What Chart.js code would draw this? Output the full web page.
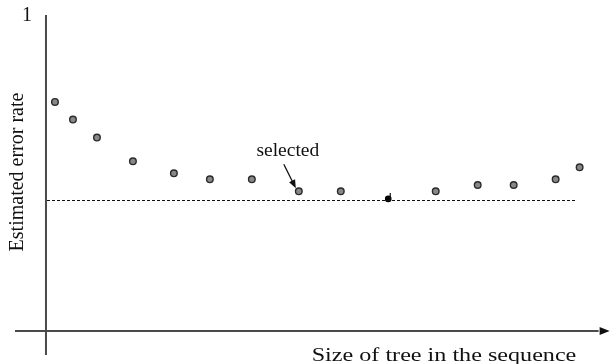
<!DOCTYPE html>
<html>
<head>
<meta charset="utf-8">
<script src="https://cdn.jsdelivr.net/npm/chart.js@4/dist/chart.umd.min.js"></script>
<style>
    html, body { margin: 0; padding: 0; background: #fff; }
    #wrap { width: 612px; height: 364px; position: relative; }
</style>
</head>
<body>
<div id="wrap"><canvas id="errorChart"></canvas></div>
<script>
// tree sizes along the pruning sequence (arbitrary units) and estimated error
const treeSizes = [9, 27, 51, 87, 128, 164, 206, 253, 295, 342.5, 390, 432, 468, 510, 534];
const errorRates = [0.725, 0.669, 0.612, 0.537, 0.499, 0.480, 0.480, 0.442, 0.442, 0.418, 0.442, 0.462, 0.462, 0.480, 0.518];
const minIndex = 9;        // black point: minimum estimated error
const selectedIndex = 7;   // tree picked by the rule
const thresholdX = [1, 531];
const thresholdY = [0.413, 0.413];
const yTickLabels = ['1'];

const serif = '"Liberation Serif", "Times New Roman", serif';
const axisColor = '#4a4a4a';

const points = treeSizes.map((x, i) => ({ x, y: errorRates[i] }));
const thresholdLine = thresholdX.map((x, i) => ({ x, y: thresholdY[i] }));

const drawingPlugin = {
    id: 'treeDrawing',
    beforeDatasetsDraw(chart) {
        const { ctx, scales: { x, y } } = chart;
        const x0 = x.getPixelForValue(0);
        const y0 = y.getPixelForValue(0);
        ctx.save();
        ctx.strokeStyle = axisColor;
        ctx.lineWidth = 2;
        // vertical axis
        ctx.beginPath();
        ctx.moveTo(x0, y.getPixelForValue(1));
        ctx.lineTo(x0, y.getPixelForValue(y.min));
        ctx.stroke();
        // horizontal axis with arrow head
        const xEnd = x.getPixelForValue(x.max);
        ctx.beginPath();
        ctx.moveTo(x.getPixelForValue(x.min), y0);
        ctx.lineTo(xEnd - 8, y0);
        ctx.stroke();
        ctx.fillStyle = '#111';
        ctx.beginPath();
        ctx.moveTo(xEnd + 3, y0);
        ctx.lineTo(xEnd - 7, y0 - 4);
        ctx.lineTo(xEnd - 7, y0 + 4);
        ctx.closePath();
        ctx.fill();
        ctx.restore();
    },
    afterDatasetsDraw(chart) {
        const { ctx, scales: { x, y } } = chart;
        ctx.save();
        ctx.fillStyle = '#111';
        ctx.strokeStyle = '#111';

        // small tick on the minimum point
        const mx = x.getPixelForValue(treeSizes[minIndex]);
        const my = y.getPixelForValue(errorRates[minIndex]);
        ctx.lineWidth = 1.2;
        ctx.beginPath();
        ctx.moveTo(mx + 2, my + 2);
        ctx.lineTo(mx + 2, my - 6);
        ctx.stroke();

        // tick label "1"
        ctx.font = '20px ' + serif;
        ctx.textAlign = 'center';
        ctx.textBaseline = 'alphabetic';
        ctx.fillText(yTickLabels[0], 27, y.getPixelForValue(1) + 6);

        // axis titles (x title is set wide in the original figure)
        ctx.save();
        ctx.translate(444, 361);
        ctx.scale(1.27, 1);
        ctx.font = '19px ' + serif;
        ctx.fillText('Size of tree in the sequence', 0, 0);
        ctx.restore();

        ctx.save();
        ctx.translate(23, 172);
        ctx.rotate(-Math.PI / 2);
        ctx.font = '20px ' + serif;
        ctx.fillText('Estimated error rate', 0, 0);
        ctx.restore();

        // "selected" annotation with arrow
        const sx = x.getPixelForValue(treeSizes[selectedIndex]);
        const sy = y.getPixelForValue(errorRates[selectedIndex]);
        ctx.font = '19.5px ' + serif;
        ctx.fillText('selected', sx - 11, sy - 35);

        const tipX = sx - 3, tipY = sy - 3;
        const tailX = sx - 15, tailY = sy - 27;
        const ang = Math.atan2(tipY - tailY, tipX - tailX);
        ctx.lineWidth = 1.3;
        ctx.beginPath();
        ctx.moveTo(tailX, tailY);
        ctx.lineTo(tipX - 6 * Math.cos(ang), tipY - 6 * Math.sin(ang));
        ctx.stroke();
        ctx.beginPath();
        ctx.moveTo(tipX, tipY);
        ctx.lineTo(tipX - 9 * Math.cos(ang - 0.38), tipY - 9 * Math.sin(ang - 0.38));
        ctx.lineTo(tipX - 9 * Math.cos(ang + 0.38), tipY - 9 * Math.sin(ang + 0.38));
        ctx.closePath();
        ctx.fill();
        ctx.restore();
    },
};

new Chart(document.getElementById('errorChart'), {
    type: 'scatter',
    data: {
        datasets: [
            {
                label: 'threshold',
                data: thresholdLine,
                showLine: true,
                borderColor: '#111',
                borderWidth: 1.2,
                borderDash: [3, 2],
                pointRadius: 0,
            },
            {
                label: 'Estimated error rate',
                data: points,
                pointRadius: points.map((p, i) => (i === minIndex ? 2.6 : 3.3)),
                pointBackgroundColor: points.map((p, i) => (i === minIndex ? '#000' : '#888')),
                pointBorderColor: points.map((p, i) => (i === minIndex ? '#000' : '#2a2a2a')),
                pointBorderWidth: 1.4,
            },
        ],
    },
    options: {
        responsive: true,
        maintainAspectRatio: false,
        animation: false,
        layout: { padding: { left: 15, right: 5, top: 15, bottom: 9 } },
        plugins: { legend: { display: false }, tooltip: { enabled: false } },
        scales: {
            x: { type: 'linear', min: -31, max: 561, display: false },
            y: { type: 'linear', min: -0.076, max: 1, display: false },
        },
    },
    plugins: [drawingPlugin],
});
</script>
</body>
</html>
